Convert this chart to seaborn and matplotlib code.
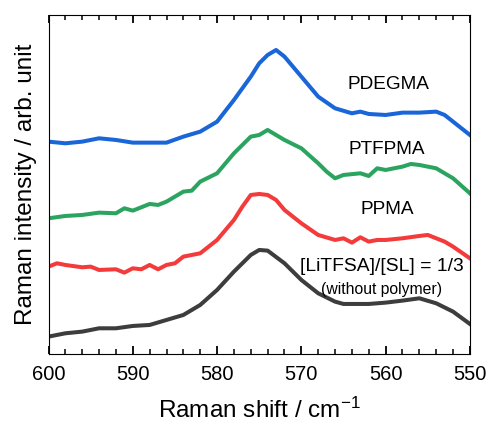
import matplotlib
matplotlib.use("Agg")
import matplotlib.pyplot as plt
import seaborn as sns
import pandas as pd
from matplotlib.ticker import MultipleLocator

# Raman shift (cm^-1) and intensities (arb. unit, stacked as displayed)
x_pdegma = [600,598,596,594,592,590,588,586,584,582,580,578,576,575,574,573,572,570,568,566,564,563,562,560,558,556,554,553,552,550]
y_pdegma = [63.7,63.2,63.7,64.7,64.2,63.4,63.4,63.4,65.2,66.7,69.7,76.2,83.2,87.2,89.7,91.2,89.2,83.2,77.2,73.7,72.2,72.7,72.0,71.7,72.4,72.4,72.7,71.7,69.7,65.7]

x_ptfpma = [600,598,596,594,592,591,590,588,587,586,584,583,582,580,578,576,575,574,572,570,568,567,566,565,563,562,561,560,558,557,556,554,552,550]
y_ptfpma = [40.7,41.4,41.7,42.4,42.2,43.7,43.0,45.0,44.7,45.7,48.7,49.0,51.7,54.2,60.2,65.2,65.7,67.2,64.2,61.7,57.2,54.7,52.7,53.7,54.2,53.4,55.7,55.2,56.2,57.0,56.7,55.7,52.7,48.2]

x_ppma = [600,599,598,596,595,594,592,591,590,589,588,587,586,585,584,582,580,578,577,576,575,574,573,572,570,568,566,565,564,563,562,561,560,558,556,555,553,552,550]
y_ppma = [26.2,27.2,26.7,26.0,26.2,25.2,25.4,24.4,25.7,25.4,26.7,25.4,26.7,27.2,29.2,30.2,34.2,40.2,44.2,47.7,48.0,47.7,46.2,43.2,39.2,35.7,34.2,34.7,33.4,35.0,33.7,34.2,34.2,34.7,35.4,35.7,33.7,32.2,28.7]

x_nopoly = [600,598,596,594,592,590,588,586,584,582,580,578,576,575,574,572,570,568,566,565,562,560,558,556,554,552,550]
y_nopoly = [5.2,6.2,6.7,7.7,7.7,8.4,8.7,10.2,11.7,14.7,19.2,24.7,29.7,31.2,31.0,27.2,22.2,18.2,15.7,15.0,15.0,15.4,16.0,16.7,15.2,12.7,9.0]

series_names = ["PDEGMA", "PTFPMA", "PPMA", "[LiTFSA]/[SL] = 1/3"]
colors = ["#1a66d9", "#2ba45f", "#f43b3b", "#3d3d3d"]
xticks = [600, 590, 580, 570, 560, 550]

frames = []
for name, xs, ys in zip(series_names,
                        [x_pdegma, x_ptfpma, x_ppma, x_nopoly],
                        [y_pdegma, y_ptfpma, y_ppma, y_nopoly]):
    frames.append(pd.DataFrame({"shift": xs, "intensity": ys, "sample": name}))
df = pd.concat(frames, ignore_index=True)

plt.rcParams["font.family"] = ["Liberation Sans", "DejaVu Sans"]
plt.rcParams["mathtext.fontset"] = "custom"
plt.rcParams["mathtext.rm"] = "Liberation Sans"
plt.rcParams["mathtext.it"] = "Liberation Sans:italic"

fig = plt.figure(figsize=(4.9, 4.28), dpi=100)
ax = fig.add_axes([0.099, 0.173, 0.86, 0.792])

sns.lineplot(data=df, x="shift", y="intensity", hue="sample", hue_order=series_names,
             palette=colors, linewidth=2.9, legend=False, ax=ax, sort=False,
             estimator=None)

ax.set_xlim(600, 550)
ax.set_ylim(0, 101.7)
ax.set_xticks(xticks)
ax.xaxis.set_minor_locator(MultipleLocator(2))
ax.tick_params(axis="x", which="major", direction="in", length=6, width=1.3,
               top=True, labelsize=14.5, pad=8)
ax.tick_params(axis="x", which="minor", direction="in", length=3.5, width=1.1, top=True)
ax.tick_params(axis="y", which="both", length=0, labelleft=False)

ax.set_xlabel("Raman shift / cm$^{-1}$", fontsize=17.5, labelpad=10)
ax.set_ylabel("Raman intensity / arb. unit", fontsize=17.5, labelpad=8)

ax.text(559.7, 80.7, "PDEGMA", fontsize=13.7, ha="center", va="center", color="black")
ax.text(559.9, 61.2, "PTFPMA", fontsize=13.7, ha="center", va="center", color="black")
ax.text(559.8, 43.4, "PPMA", fontsize=13.7, ha="center", va="center", color="black")
ax.text(560.5, 26.2, "[LiTFSA]/[SL] = 1/3", fontsize=13.9, ha="center", va="center", color="black")
ax.text(560.5, 19.4, "(without polymer)", fontsize=11.3, ha="center", va="center", color="black")

fig.savefig("out.png", dpi=100)
